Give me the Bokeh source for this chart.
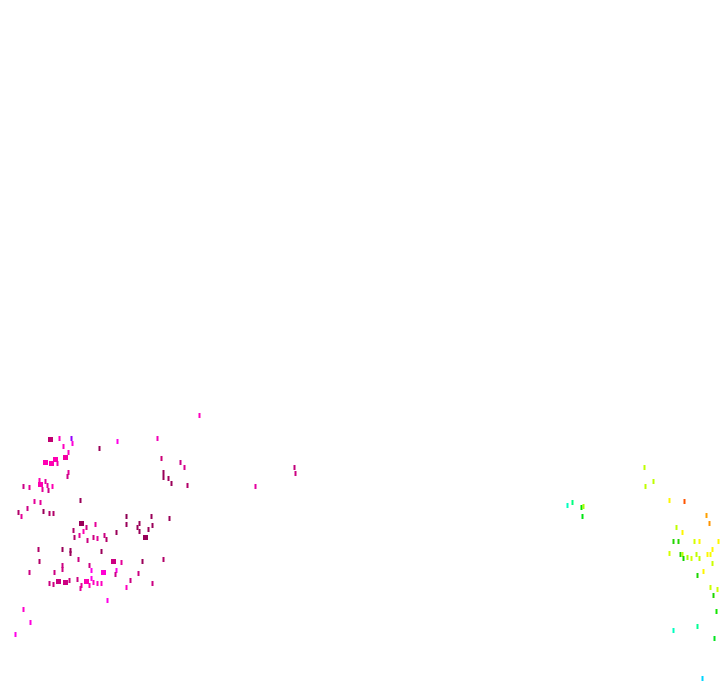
import colorsys
from bokeh.plotting import figure
from bokeh.models import ColumnDataSource, Range1d
from bokeh.embed import file_html
from bokeh.resources import INLINE

# Observations (position east, position south, hue value, lightness value, merged flag)
west_x = [199, 50, 59, 71, 72, 63, 68, 65, 117, 99, 157, 161, 180, 184, 163, 163, 168, 171, 187,
          45, 51, 55, 57, 68, 67, 39, 45, 40, 47, 52, 42, 48, 23, 29, 34, 40, 80, 18, 27, 21, 43,
          49, 53, 126, 151, 169, 81, 86, 95, 73, 83, 79, 74, 87, 93, 97, 104, 106, 116, 126, 137,
          139, 139, 145, 148, 152, 38, 62, 70, 70, 101, 39, 78, 113, 121, 142, 163, 29, 54, 62, 62,
          89, 91, 103, 116, 115, 138, 49, 53, 58, 65, 69, 77, 81, 80, 86, 89, 91, 93, 97, 101, 130,
          126, 152, 107, 23, 30, 15, 294, 295, 255]
west_y = [415, 439, 438, 438, 443, 446, 452, 457, 441, 448, 438, 458, 462, 467, 472, 477, 478, 483, 485,
          462, 463, 459, 463, 472, 476, 480, 481, 484, 485, 486, 489, 490, 486, 487, 501, 502, 500, 512, 508, 516, 511,
          513, 513, 516, 516, 518, 523, 527, 524, 530, 531, 535, 537, 540, 537, 538, 535, 539, 532, 524, 527,
          523, 531, 537, 529, 525, 549, 549, 550, 553, 551, 561, 559, 561, 562, 561, 559, 572, 572, 565, 569,
          565, 570, 572, 570, 574, 573, 583, 584, 581, 582, 580, 579, 585, 588, 581, 585, 578, 582, 583, 583, 580,
          587, 583, 600, 609, 622, 634, 467, 473, 486]
west_hue = [315, 325, 315, 275, 310, 315, 315, 320, 305, 325, 315, 325, 320, 320, 325, 325, 325, 325, 325,
            318, 318, 318, 318, 320, 320, 318, 318, 318, 318, 318, 320, 320, 320, 320, 320, 320, 325, 325, 320, 320, 325,
            325, 325, 325, 325, 325, 325, 322, 320, 325, 318, 320, 325, 322, 322, 320, 322, 325, 325, 325, 325,
            325, 325, 325, 325, 325, 325, 325, 325, 325, 325, 325, 322, 322, 320, 325, 325, 322, 322, 322, 322,
            322, 305, 310, 305, 320, 322, 322, 322, 322, 322, 322, 322, 320, 320, 318, 318, 305, 315, 315, 315, 322,
            315, 322, 305, 312, 308, 305, 322, 322, 318]
west_light = [.5, .38, .5, .5, .5, .5, .5, .48, .5, .3, .48, .4, .4, .42, .3, .3, .32, .3, .35,
              .5, .5, .5, .48, .45, .4, .5, .45, .5, .45, .5, .45, .4, .4, .45, .45, .45, .3, .35, .4, .45, .3,
              .35, .35, .28, .3, .3, .3, .4, .45, .35, .5, .45, .35, .4, .4, .45, .4, .35, .3, .3, .3,
              .3, .3, .3, .3, .3, .35, .3, .3, .3, .3, .35, .4, .4, .45, .3, .35, .4, .4, .4, .4,
              .4, .5, .5, .5, .4, .4, .4, .4, .4, .4, .4, .4, .45, .45, .5, .5, .5, .5, .5, .5, .4,
              .5, .4, .5, .5, .5, .5, .38, .4, .45]
west_merged = [0, 1, 0, 0, 0, 0, 0, 1, 0, 0, 0, 0, 0, 0, 0, 0, 0, 0, 0,
               1, 1, 1, 0, 0, 0, 0, 0, 1, 0, 0, 0, 0, 0, 0, 0, 0, 0, 0, 0, 0, 0,
               0, 0, 0, 0, 0, 1, 0, 0, 0, 0, 0, 0, 0, 0, 0, 0, 0, 0, 0, 0,
               0, 0, 1, 0, 0, 0, 0, 0, 0, 0, 0, 0, 1, 0, 0, 0, 0, 0, 0, 0,
               0, 0, 1, 0, 0, 0, 0, 0, 1, 1, 0, 0, 0, 0, 1, 0, 0, 0, 0, 0, 0,
               0, 0, 0, 0, 0, 0, 0, 0, 0]

east_x = [644, 653, 645, 567, 572, 581, 583, 582, 669, 684, 706, 709, 676, 682, 673, 678, 694, 699, 718,
          712, 669, 680, 682, 687, 683, 691, 696, 699, 707, 710, 712, 703, 697, 710, 717, 713, 716, 697,
          673, 714, 702]
east_y = [467, 481, 486, 505, 502, 507, 506, 516, 500, 501, 515, 523, 527, 532, 541, 541, 541, 541, 541,
          549, 553, 554, 554, 557, 558, 558, 554, 558, 554, 554, 563, 571, 575, 587, 589, 595, 611, 626,
          630, 638, 678]
east_hue = [75, 75, 75, 165, 150, 120, 80, 125, 58, 20, 38, 35, 75, 58, 110, 110, 70, 58, 58,
            58, 70, 110, 75, 80, 115, 70, 75, 75, 58, 62, 72, 58, 112, 72, 72, 112, 115, 155,
            165, 128, 190]
east_light = [.5, .5, .5, .5, .5, .45, .5, .45, .5, .5, .5, .5, .5, .5, .42, .42, .5, .5, .5,
              .5, .5, .42, .5, .5, .42, .5, .5, .5, .5, .5, .5, .5, .42, .5, .5, .42, .45, .5,
              .5, .45, .5]
east_merged = [0] * len(east_x)


def colour(h, l):
    r, g, b = colorsys.hls_to_rgb(h / 360.0, l, 1.0)
    return "#%02x%02x%02x" % (int(r * 255), int(g * 255), int(b * 255))


xs = west_x + east_x
ys = west_y + east_y
hues = west_hue + east_hue
lights = west_light + east_light
merged = west_merged + east_merged

src = ColumnDataSource(dict(
    x=xs,
    y=ys,
    c=[colour(h, l) for h, l in zip(hues, lights)],
    w=[5 if m else 2 for m in merged],
    h=[5 for m in merged],
))

p = figure(width=720, height=692, output_backend="svg", toolbar_location=None,
           x_range=Range1d(0, 720), y_range=Range1d(692, 0),
           min_border=0, min_border_left=0, min_border_right=0,
           min_border_top=0, min_border_bottom=0)
p.xaxis.visible = False
p.yaxis.visible = False
p.grid.visible = False
p.outline_line_color = None
p.background_fill_color = "white"
p.border_fill_color = "white"

p.rect(x="x", y="y", width="w", height="h", width_units="screen", height_units="screen",
       source=src, fill_color="c", line_color=None)

open("out.html", "w").write(file_html(p, INLINE))
